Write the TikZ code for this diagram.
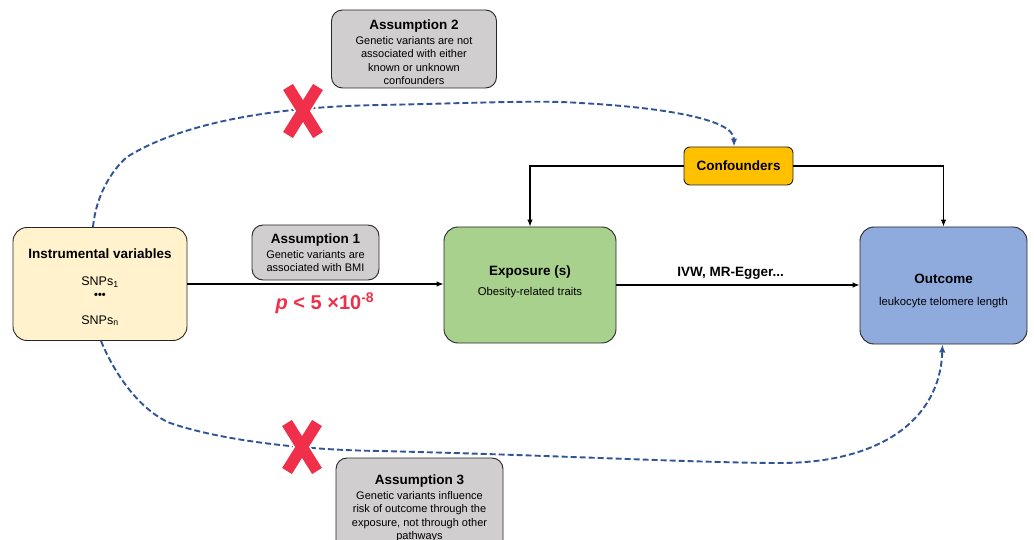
\documentclass[tikz,border=0pt]{standalone}
\usepackage{fontspec}
\setmainfont{Liberation Sans}
\usepackage{xcolor}
\usetikzlibrary{arrows.meta,positioning}

\definecolor{ivfill}{HTML}{FFF2CC}
\definecolor{assfill}{HTML}{D0CECE}
\definecolor{expofill}{HTML}{A9D18E}
\definecolor{conffill}{HTML}{FFC000}
\definecolor{outfill}{HTML}{8FAADC}
\definecolor{dashblue}{HTML}{2F5597}
\definecolor{crossred}{HTML}{F0304A}

\newcommand{\boxtitle}[1]{{\fontsize{13.5}{16}\selectfont\bfseries #1}}

\begin{document}
\begin{tikzpicture}[x=1pt, y=-1pt, >=Latex,
  every node/.style={align=center, font=\fontsize{11}{13.3}\selectfont},
  mainbox/.style={draw=black!85, line width=0.9pt, rounded corners=14pt, inner sep=2pt},
  assbox/.style={draw=black!85, line width=0.9pt, fill=assfill, rounded corners=11pt, inner sep=2pt},
  arr/.style={->, line width=1.1pt, >={Latex[length=7pt,width=5.5pt]}},
  dasharr/.style={->, dashblue, line width=1.9pt, dash pattern=on 6pt off 3pt, >={Latex[length=8pt,width=6.5pt]}},
  redcross/.style={crossred, line width=11.5pt}]
\useasboundingbox (0,0) rectangle (1034,540);

% boxes
\node[mainbox, fill=ivfill, minimum width=174pt, minimum height=113pt] (iv) at (100,284)
  {\rule{0pt}{16pt}\boxtitle{Instrumental variables}\\[14pt]
   {\fontsize{12.5}{14}\selectfont SNPs\textsubscript{1}}\\[0pt]
   {\fontsize{11}{11}\selectfont\bfseries •••}\\[12pt]
   {\fontsize{12.5}{14}\selectfont SNPs\textsubscript{n}}};
\node[mainbox, fill=expofill, minimum width=172pt, minimum height=116pt] (expo) at (530,285)
  {\boxtitle{Exposure (s)}\\[7pt] {\fontsize{11.3}{13.3}\selectfont Obesity-related traits}\rule[-9.3pt]{0pt}{0pt}};
\node[mainbox, fill=outfill, minimum width=167pt, minimum height=117pt] (outc) at (943.5,285.5)
  {\rule{0pt}{20pt}\boxtitle{Outcome}\\[9pt] {\fontsize{11.3}{13.3}\selectfont leukocyte telomere length}};
\node[mainbox, fill=conffill, rounded corners=6pt, minimum width=109pt, minimum height=38pt] (conf) at (738.5,166)
  {\boxtitle{Confounders}};

\node[assbox, minimum width=127pt, minimum height=55pt] (ass1) at (315.5,252.5)
  {\boxtitle{Assumption 1}\\[2pt] Genetic variants are\\ associated with BMI};
\node[assbox, minimum width=165pt, minimum height=78pt] (ass2) at (414,49)
  {\rule{0pt}{15.7pt}\boxtitle{Assumption 2}\\[2pt] Genetic variants are not\\ associated with either\\ known or unknown\\ confounders};
\node[assbox, minimum width=167pt, minimum height=100pt] (ass3) at (419.5,508)
  {\boxtitle{Assumption 3}\\[2pt] Genetic variants influence\\ risk of outcome through the\\ exposure, not through other\\ pathways};

\node[text=crossred, font=\fontsize{20}{24}\selectfont\bfseries] (pval) at (325,303)
  {\textit{p} < 5 ×10\textsuperscript{-8}};

% connectors
\draw[arr] (iv.east) -- (iv.east -| expo.west);
\draw[arr] (expo.east) -- (expo.east -| outc.west)
  node[pos=0.47, above=2pt, font=\fontsize{13.5}{16}\selectfont\bfseries] (ivw) {IVW, MR-Egger...};
\draw[arr] (conf.west) -| (expo.north);
\draw[arr] (conf.east) -| (outc.north);

\draw[dasharr] ([xshift=-7pt]iv.north) .. controls (96,195) and (112,170) .. (127,157)
  .. controls (170,130) and (250,107) .. (380,105)
  .. controls (480,103) and (540,100) .. (580,103)
  .. controls (655,107) and (734,118) .. ([xshift=-4.5pt]conf.north);
\draw[dasharr] ([xshift=1pt]iv.south) .. controls (115,375) and (140,410) .. (170,423)
  .. controls (220,440) and (300,450) .. (380,451)
  .. controls (550,455) and (700,463) .. (780,463)
  .. controls (880,463) and (940,420) .. ([xshift=-1pt]outc.south);

% violated paths
\coordinate (xtop) at (303,111);
\coordinate (xbot) at (302,447);
\draw[white, line width=15pt] (xtop) ++(-15,-24) -- ++(30,48) (xtop) ++(15,-24) -- ++(-30,48);
\draw[white, line width=15pt] (xbot) ++(-15,-24) -- ++(30,48) (xbot) ++(15,-24) -- ++(-30,48);
\draw[redcross] (xtop) ++(-15,-24) -- ++(30,48) (xtop) ++(15,-24) -- ++(-30,48);
\draw[redcross] (xbot) ++(-15,-24) -- ++(30,48) (xbot) ++(15,-24) -- ++(-30,48);
\end{tikzpicture}
\end{document}
